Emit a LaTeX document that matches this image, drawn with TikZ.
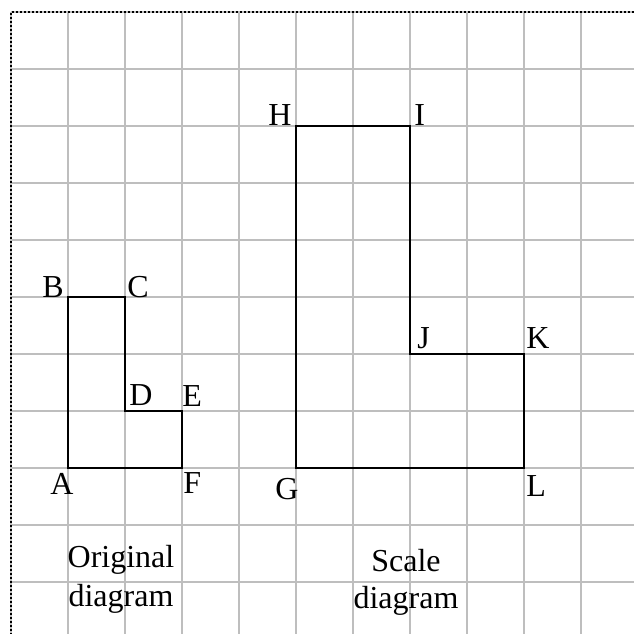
\documentclass[tikz,border=0pt]{standalone}
\usepackage{fontspec}
\setmainfont{Liberation Serif}
\begin{document}
\begin{tikzpicture}[x=0.5pt,y=-0.5pt,
  gridline/.style={draw={rgb,255:red,190;green,190;blue,190},line width=1pt},
  framedots/.style={draw=black,line width=1.3pt,dash pattern=on 1pt off 1pt},
  outline/.style={draw=black,line width=1pt,line join=miter},
  lbl/.style={inner sep=0pt,font=\fontsize{16}{19}\selectfont}]
\useasboundingbox (0,0) rectangle (634,634);
% grid
\foreach \k in {0,...,10}{
  \draw[gridline] ({11+57*\k},12) -- ({11+57*\k},634);
  \draw[gridline] (11,{12+57*\k}) -- (634,{12+57*\k});
}
% dotted frame (top and left)
\draw[framedots] (634,12) -- (11,12) -- (11,634);
% vertices, original diagram
\coordinate (A) at (68,468);
\coordinate (B) at (68,297);
\coordinate (C) at (125,297);
\coordinate (D) at (125,411);
\coordinate (E) at (182,411);
\coordinate (F) at (182,468);
% vertices, scale diagram
\coordinate (G) at (296,468);
\coordinate (H) at (296,126);
\coordinate (I) at (410,126);
\coordinate (J) at (410,354);
\coordinate (K) at (524,354);
\coordinate (L) at (524,468);
\draw[outline] (A) -- (B) -- (C) -- (D) -- (E) -- (F) -- cycle;
\draw[outline] (G) -- (H) -- (I) -- (J) -- (K) -- (L) -- cycle;
% labels
\node[lbl,anchor=base east] (lB) at (64,297) {B};
\node[lbl,anchor=base west] (lC) at (127,297) {C};
\node[lbl,anchor=base west] (lD) at (129,405) {D};
\node[lbl,anchor=base west] (lE) at (182,406) {E};
\node[lbl,anchor=base] (lA) at (62,494) {A};
\node[lbl,anchor=base west] (lF) at (183,493) {F};
\node[lbl,anchor=base] (lG) at (287,499) {G};
\node[lbl,anchor=base east] (lH) at (292,125) {H};
\node[lbl,anchor=base west] (lI) at (414,125) {I};
\node[lbl,anchor=base west] (lJ) at (417,348) {J};
\node[lbl,anchor=base west] (lK) at (526,348) {K};
\node[lbl,anchor=base west] (lL) at (526,496) {L};
% captions
\node[lbl,anchor=base] (o1) at (121,567) {Original};
\node[lbl,anchor=base] (o2) at (121,606) {diagram};
\node[lbl,anchor=base] (s1) at (406,571) {Scale};
\node[lbl,anchor=base] (s2) at (406,608) {diagram};
\end{tikzpicture}
\end{document}
